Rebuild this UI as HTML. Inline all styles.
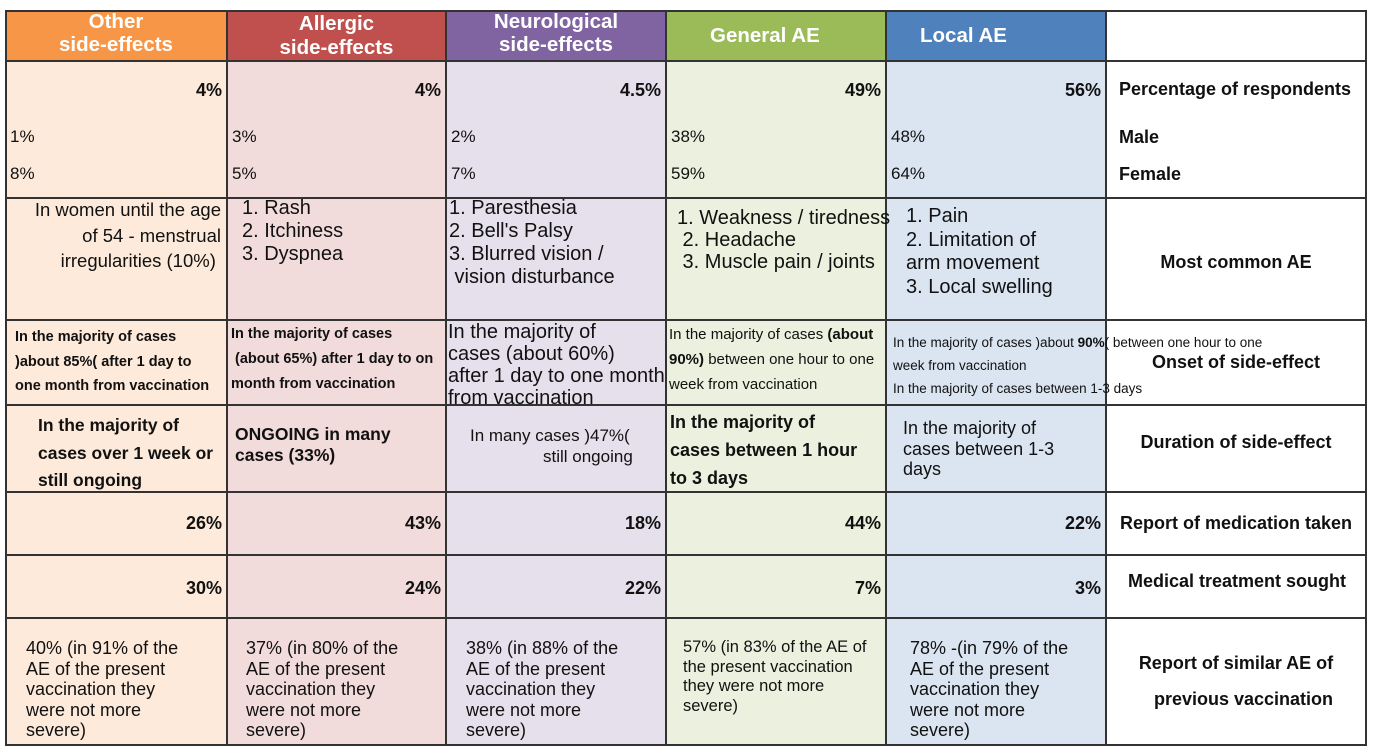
<!DOCTYPE html>
<html><head><meta charset="utf-8"><style>
body{margin:0;width:1373px;height:754px;background:#fff;position:relative;overflow:hidden;font-family:"Liberation Sans",sans-serif;color:#111}
.b{position:absolute;box-sizing:border-box}
.t{position:absolute;white-space:nowrap;line-height:1}
.r{text-align:right}
.hd{color:#fff;font-weight:bold;font-size:20.5px}
.bd{font-weight:bold}
.line{position:absolute;background:#333}
.lb{font-weight:bold;font-size:18px}
</style></head><body>
<div class="b" style="left:5px;top:11px;width:222px;height:50px;background:#f79646"></div>
<div class="b" style="left:227px;top:11px;width:219px;height:50px;background:#c0504d"></div>
<div class="b" style="left:446px;top:11px;width:220px;height:50px;background:#8064a2"></div>
<div class="b" style="left:666px;top:11px;width:220px;height:50px;background:#9bbb59"></div>
<div class="b" style="left:886px;top:11px;width:220px;height:50px;background:#4f81bd"></div>
<div class="b" style="left:5px;top:61px;width:222px;height:684px;background:#fdeada"></div>
<div class="b" style="left:227px;top:61px;width:219px;height:684px;background:#f2dcdb"></div>
<div class="b" style="left:446px;top:61px;width:220px;height:684px;background:#e5e0ec"></div>
<div class="b" style="left:666px;top:61px;width:220px;height:684px;background:#ebf1de"></div>
<div class="b" style="left:886px;top:61px;width:220px;height:684px;background:#dbe5f1"></div>
<div class="line" style="left:5px;top:10px;width:1362px;height:2px"></div>
<div class="line" style="left:5px;top:60px;width:1362px;height:2px"></div>
<div class="line" style="left:5px;top:197px;width:1362px;height:2px"></div>
<div class="line" style="left:5px;top:319px;width:1362px;height:2px"></div>
<div class="line" style="left:5px;top:404px;width:1362px;height:2px"></div>
<div class="line" style="left:5px;top:491px;width:1362px;height:2px"></div>
<div class="line" style="left:5px;top:554px;width:1362px;height:2px"></div>
<div class="line" style="left:5px;top:617px;width:1362px;height:2px"></div>
<div class="line" style="left:5px;top:744px;width:1362px;height:2px"></div>
<div class="line" style="left:5px;top:10px;width:2px;height:736px"></div>
<div class="line" style="left:226px;top:10px;width:2px;height:736px"></div>
<div class="line" style="left:445px;top:10px;width:2px;height:736px"></div>
<div class="line" style="left:665px;top:10px;width:2px;height:736px"></div>
<div class="line" style="left:885px;top:10px;width:2px;height:736px"></div>
<div class="line" style="left:1105px;top:10px;width:2px;height:736px"></div>
<div class="line" style="left:1365px;top:10px;width:2px;height:736px"></div>

<div class="t hd" style="left:5px;width:222px;text-align:center;top:12px">Other</div>
<div class="t hd" style="left:5px;width:222px;text-align:center;top:35px">side-effects</div>
<div class="t hd" style="left:227px;width:219px;text-align:center;top:14px">Allergic</div>
<div class="t hd" style="left:227px;width:219px;text-align:center;top:38px">side-effects</div>
<div class="t hd" style="left:446px;width:220px;text-align:center;top:12px">Neurological</div>
<div class="t hd" style="left:446px;width:220px;text-align:center;top:35px">side-effects</div>
<div class="t hd" style="left:710px;top:26px">General AE</div>
<div class="t hd" style="left:920px;top:26px">Local AE</div>

<div class="t bd r" style="left:5px;width:217px;top:81px;font-size:18px">4%</div>
<div class="t bd r" style="left:227px;width:214px;top:81px;font-size:18px">4%</div>
<div class="t bd r" style="left:446px;width:215px;top:81px;font-size:18px">4.5%</div>
<div class="t bd r" style="left:666px;width:215px;top:81px;font-size:18px">49%</div>
<div class="t bd r" style="left:886px;width:215px;top:81px;font-size:18px">56%</div>
<div class="t" style="left:10px;top:128px;font-size:17px">1%</div>
<div class="t" style="left:232px;top:128px;font-size:17px">3%</div>
<div class="t" style="left:451px;top:128px;font-size:17px">2%</div>
<div class="t" style="left:671px;top:128px;font-size:17px">38%</div>
<div class="t" style="left:891px;top:128px;font-size:17px">48%</div>
<div class="t" style="left:10px;top:165px;font-size:17px">8%</div>
<div class="t" style="left:232px;top:165px;font-size:17px">5%</div>
<div class="t" style="left:451px;top:165px;font-size:17px">7%</div>
<div class="t" style="left:671px;top:165px;font-size:17px">59%</div>
<div class="t" style="left:891px;top:165px;font-size:17px">64%</div>
<div class="t lb" style="left:1119px;top:80px">Percentage of respondents</div>
<div class="t lb" style="left:1119px;top:128px">Male</div>
<div class="t lb" style="left:1119px;top:165px">Female</div>

<div class="t r" style="left:5px;width:216px;top:197px;font-size:18.5px;line-height:25.5px">In women until the age<br>of 54 - menstrual<br>irregularities (10%)&nbsp;</div>
<div class="t" style="left:242px;top:197px;font-size:20px;line-height:23px">1. Rash<br>2. Itchiness<br>3. Dyspnea</div>
<div class="t" style="left:449px;top:197px;font-size:20px;line-height:23px">1. Paresthesia<br>2. Bell's Palsy<br>3. Blurred vision /<br>&nbsp;vision disturbance</div>
<div class="t" style="left:677px;top:207px;font-size:20px;line-height:22px">1. Weakness / tiredness<br>&nbsp;2. Headache<br>&nbsp;3. Muscle pain / joints</div>
<div class="t" style="left:906px;top:205px;font-size:20px;line-height:23.5px">1. Pain<br>2. Limitation of<br>arm movement<br>3. Local swelling</div>
<div class="t lb" style="left:1106px;width:260px;text-align:center;top:253px">Most common AE</div>

<div class="t bd" style="left:15px;top:325px;font-size:14.5px;line-height:24.5px">In the majority of cases<br>)about 85%( after 1 day to<br>one month from vaccination</div>
<div class="t bd" style="left:231px;top:322px;font-size:14.5px;line-height:25px">In the majority of cases<br>&nbsp;(about 65%) after 1 day to on<br>month from vaccination</div>
<div class="t" style="left:448px;top:321px;font-size:20px;line-height:22px">In the majority of<br>cases (about 60%)<br>after 1 day to one month<br>from vaccination</div>
<div class="t" style="left:669px;top:322px;font-size:15px;line-height:25px">In the majority of cases <b>(about</b><br><b>90%)</b> between one hour to one<br>week from vaccination</div>
<div class="t" style="left:893px;top:331px;font-size:13.5px;line-height:23px">In the majority of cases )about <b>90%</b>( between one hour to one<br>week from vaccination<br>In the majority of cases between 1-3 days</div>
<div class="t lb" style="left:1106px;width:260px;text-align:center;top:353px">Onset of side-effect</div>

<div class="t bd" style="left:38px;top:412px;font-size:17.5px;line-height:27.5px">In the majority of<br>cases over 1 week or<br>still ongoing</div>
<div class="t bd" style="left:235px;top:424px;font-size:17.5px;line-height:21px">ONGOING in many<br>cases (33%)</div>
<div class="t" style="left:470px;top:427px;font-size:17px">In many cases )47%(</div>
<div class="t" style="left:543px;top:448px;font-size:17px">still ongoing</div>
<div class="t bd" style="left:670px;top:408px;font-size:18px;line-height:28px">In the majority of<br>cases between 1 hour<br>to 3 days</div>
<div class="t" style="left:903px;top:418px;font-size:18px;line-height:20.5px">In the majority of<br>cases between 1-3<br>days</div>
<div class="t lb" style="left:1106px;width:260px;text-align:center;top:433px">Duration of side-effect</div>

<div class="t bd r" style="left:5px;width:217px;top:514px;font-size:18px">26%</div>
<div class="t bd r" style="left:227px;width:214px;top:514px;font-size:18px">43%</div>
<div class="t bd r" style="left:446px;width:215px;top:514px;font-size:18px">18%</div>
<div class="t bd r" style="left:666px;width:215px;top:514px;font-size:18px">44%</div>
<div class="t bd r" style="left:886px;width:215px;top:514px;font-size:18px">22%</div>
<div class="t lb" style="left:1120px;top:514px">Report of medication taken</div>

<div class="t bd r" style="left:5px;width:217px;top:579px;font-size:18px">30%</div>
<div class="t bd r" style="left:227px;width:214px;top:579px;font-size:18px">24%</div>
<div class="t bd r" style="left:446px;width:215px;top:579px;font-size:18px">22%</div>
<div class="t bd r" style="left:666px;width:215px;top:579px;font-size:18px">7%</div>
<div class="t bd r" style="left:886px;width:215px;top:579px;font-size:18px">3%</div>
<div class="t lb" style="left:1128px;top:572px">Medical treatment sought</div>

<div class="t" style="left:26px;top:638px;font-size:18px;line-height:20.5px">40% (in 91% of the<br>AE of the present<br>vaccination they<br>were not more<br>severe)</div>
<div class="t" style="left:246px;top:638px;font-size:18px;line-height:20.5px">37% (in 80% of the<br>AE of the present<br>vaccination they<br>were not more<br>severe)</div>
<div class="t" style="left:466px;top:638px;font-size:18px;line-height:20.5px">38% (in 88% of the<br>AE of the present<br>vaccination they<br>were not more<br>severe)</div>
<div class="t" style="left:683px;top:638px;font-size:16.5px;line-height:19.5px">57% (in 83% of the AE of<br>the present vaccination<br>they were not more<br>severe)</div>
<div class="t" style="left:910px;top:638px;font-size:18px;line-height:20.5px">78% -(in 79% of the<br>AE of the present<br>vaccination they<br>were not more<br>severe)</div>
<div class="t lb" style="left:1106px;width:260px;text-align:center;top:654px">Report of similar AE of</div>
<div class="t lb" style="left:1106px;width:260px;text-align:center;top:690px">&nbsp;&nbsp;&nbsp;previous vaccination</div>
</body></html>
